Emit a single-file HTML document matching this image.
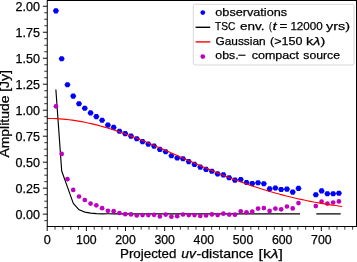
<!DOCTYPE html><html><head><meta charset="utf-8"><style>html,body{margin:0;padding:0;background:#fff;overflow:hidden}svg{display:block}text{font-family:"Liberation Sans",sans-serif;fill:#000;stroke:#000;stroke-width:0.25px}</style></head><body>
<svg width="357" height="262" viewBox="0 0 357 262">
<filter id="bl" x="0" y="0" width="357" height="262" filterUnits="userSpaceOnUse"><feGaussianBlur stdDeviation="0.33"/></filter>
<rect x="0" y="0" width="357" height="262" fill="#fff"/>
<g filter="url(#bl)">
<defs><clipPath id="c"><rect x="47.26" y="0.50" width="309.24" height="226.00"/></clipPath></defs>
<g clip-path="url(#c)">
<g fill="#0000ff"><polygon points="52.85,10.85 54.38,8.32 57.42,8.32 58.95,10.85 57.42,13.38 54.38,13.38"/><polygon points="58.63,58.80 60.15,56.27 63.20,56.27 64.73,58.80 63.20,61.33 60.15,61.33"/><polygon points="64.40,84.80 65.93,82.27 68.98,82.27 70.50,84.80 68.98,87.33 65.93,87.33"/><polygon points="70.18,96.10 71.70,93.57 74.75,93.57 76.28,96.10 74.75,98.63 71.70,98.63"/><polygon points="75.95,103.70 77.48,101.17 80.53,101.17 82.05,103.70 80.53,106.23 77.48,106.23"/><polygon points="81.73,108.20 83.25,105.67 86.31,105.67 87.83,108.20 86.31,110.73 83.25,110.73"/><polygon points="87.51,112.90 89.03,110.37 92.08,110.37 93.61,112.90 92.08,115.43 89.03,115.43"/><polygon points="93.28,116.60 94.81,114.07 97.86,114.07 99.38,116.60 97.86,119.13 94.81,119.13"/><polygon points="99.06,120.30 100.58,117.77 103.63,117.77 105.16,120.30 103.63,122.83 100.58,122.83"/><polygon points="104.83,125.10 106.36,122.57 109.41,122.57 110.93,125.10 109.41,127.63 106.36,127.63"/><polygon points="110.61,127.40 112.13,124.87 115.19,124.87 116.71,127.40 115.19,129.93 112.13,129.93"/><polygon points="116.39,131.30 117.91,128.77 120.96,128.77 122.49,131.30 120.96,133.83 117.91,133.83"/><polygon points="122.16,133.60 123.69,131.07 126.74,131.07 128.26,133.60 126.74,136.13 123.69,136.13"/><polygon points="127.94,136.10 129.46,133.57 132.51,133.57 134.04,136.10 132.51,138.63 129.46,138.63"/><polygon points="133.71,138.80 135.24,136.27 138.29,136.27 139.81,138.80 138.29,141.33 135.24,141.33"/><polygon points="139.49,141.60 141.01,139.07 144.06,139.07 145.59,141.60 144.06,144.13 141.01,144.13"/><polygon points="145.27,144.10 146.79,141.57 149.84,141.57 151.37,144.10 149.84,146.63 146.79,146.63"/><polygon points="151.04,146.10 152.57,143.57 155.62,143.57 157.14,146.10 155.62,148.63 152.57,148.63"/><polygon points="156.82,149.40 158.34,146.87 161.39,146.87 162.92,149.40 161.39,151.93 158.34,151.93"/><polygon points="162.59,151.80 164.12,149.27 167.17,149.27 168.69,151.80 167.17,154.33 164.12,154.33"/><polygon points="168.37,155.70 169.89,153.17 172.94,153.17 174.47,155.70 172.94,158.23 169.89,158.23"/><polygon points="174.15,158.00 175.67,155.47 178.72,155.47 180.25,158.00 178.72,160.53 175.67,160.53"/><polygon points="179.92,158.70 181.45,156.17 184.50,156.17 186.02,158.70 184.50,161.23 181.45,161.23"/><polygon points="185.70,161.60 187.22,159.07 190.27,159.07 191.80,161.60 190.27,164.13 187.22,164.13"/><polygon points="191.47,164.40 193.00,161.87 196.05,161.87 197.57,164.40 196.05,166.93 193.00,166.93"/><polygon points="197.25,167.10 198.78,164.57 201.83,164.57 203.35,167.10 201.83,169.63 198.78,169.63"/><polygon points="203.03,169.40 204.55,166.87 207.60,166.87 209.13,169.40 207.60,171.93 204.55,171.93"/><polygon points="208.80,171.30 210.33,168.77 213.38,168.77 214.90,171.30 213.38,173.83 210.33,173.83"/><polygon points="214.58,173.90 216.10,171.37 219.15,171.37 220.68,173.90 219.15,176.43 216.10,176.43"/><polygon points="220.35,174.90 221.88,172.37 224.93,172.37 226.45,174.90 224.93,177.43 221.88,177.43"/><polygon points="226.13,177.70 227.66,175.17 230.71,175.17 232.23,177.70 230.71,180.23 227.66,180.23"/><polygon points="231.91,180.10 233.43,177.57 236.48,177.57 238.01,180.10 236.48,182.63 233.43,182.63"/><polygon points="237.68,179.50 239.21,176.97 242.26,176.97 243.78,179.50 242.26,182.03 239.21,182.03"/><polygon points="243.46,182.50 244.98,179.97 248.03,179.97 249.56,182.50 248.03,185.03 244.98,185.03"/><polygon points="249.23,183.60 250.76,181.07 253.81,181.07 255.33,183.60 253.81,186.13 250.76,186.13"/><polygon points="255.01,182.70 256.54,180.17 259.58,180.17 261.11,182.70 259.58,185.23 256.54,185.23"/><polygon points="260.79,183.80 262.31,181.27 265.36,181.27 266.89,183.80 265.36,186.33 262.31,186.33"/><polygon points="266.56,188.90 268.09,186.37 271.14,186.37 272.66,188.90 271.14,191.43 268.09,191.43"/><polygon points="272.34,188.00 273.86,185.47 276.91,185.47 278.44,188.00 276.91,190.53 273.86,190.53"/><polygon points="278.11,189.50 279.64,186.97 282.69,186.97 284.21,189.50 282.69,192.03 279.64,192.03"/><polygon points="283.89,189.10 285.42,186.57 288.46,186.57 289.99,189.10 288.46,191.63 285.42,191.63"/><polygon points="289.67,192.10 291.19,189.57 294.24,189.57 295.77,192.10 294.24,194.63 291.19,194.63"/><polygon points="295.44,188.40 296.97,185.87 300.02,185.87 301.54,188.40 300.02,190.93 296.97,190.93"/><polygon points="312.77,194.80 314.30,192.27 317.34,192.27 318.87,194.80 317.34,197.33 314.30,197.33"/><polygon points="318.55,190.90 320.07,188.37 323.12,188.37 324.65,190.90 323.12,193.43 320.07,193.43"/><polygon points="324.32,193.70 325.85,191.17 328.90,191.17 330.42,193.70 328.90,196.23 325.85,196.23"/><polygon points="330.10,193.70 331.62,191.17 334.67,191.17 336.20,193.70 334.67,196.23 331.62,196.23"/><polygon points="335.87,193.20 337.40,190.67 340.45,190.67 341.97,193.20 340.45,195.73 337.40,195.73"/></g>
<polyline points="55.90,90.00 61.70,171.00 67.50,187.10 73.30,203.40 79.10,209.80 84.90,212.10 90.70,213.10 96.50,213.60 102.30,213.90 108.10,213.80 113.90,213.80 119.70,213.80 125.50,213.80 131.30,213.80 137.10,213.80 142.90,213.80 148.70,213.80 154.50,213.80 160.30,213.80 166.10,213.80 171.90,213.80 177.70,213.80 183.50,213.80 189.30,213.80 195.10,213.80 200.90,213.80 206.70,213.80 212.50,213.80 218.30,213.80 224.10,213.80 229.90,213.80 235.70,213.80 241.50,213.80 247.30,213.80 253.10,213.80 258.90,213.80 264.70,213.80 270.50,213.80 276.30,213.80 282.10,213.80 287.90,213.80 293.70,213.80 299.50,213.80" fill="none" stroke="#000" stroke-width="1.15" stroke-linecap="square" stroke-linejoin="round"/>
<polyline points="316.90,213.80 322.70,213.80 328.50,213.80 334.30,213.80 340.10,213.80" fill="none" stroke="#000" stroke-width="1.15" stroke-linecap="square"/>
<g fill="#bf00bf"><circle cx="55.90" cy="106.30" r="2.35"/><circle cx="61.68" cy="153.90" r="2.35"/><circle cx="67.45" cy="179.20" r="2.35"/><circle cx="73.23" cy="189.90" r="2.35"/><circle cx="79.00" cy="196.50" r="2.35"/><circle cx="84.78" cy="200.00" r="2.35"/><circle cx="90.56" cy="203.60" r="2.35"/><circle cx="96.33" cy="205.35" r="2.35"/><circle cx="102.11" cy="208.20" r="2.35"/><circle cx="107.88" cy="210.80" r="2.35"/><circle cx="113.66" cy="211.20" r="2.35"/><circle cx="119.44" cy="213.00" r="2.35"/><circle cx="125.21" cy="214.20" r="2.35"/><circle cx="130.99" cy="214.40" r="2.35"/><circle cx="136.76" cy="215.50" r="2.35"/><circle cx="142.54" cy="215.10" r="2.35"/><circle cx="148.32" cy="215.10" r="2.35"/><circle cx="154.09" cy="214.80" r="2.35"/><circle cx="159.87" cy="216.40" r="2.35"/><circle cx="165.64" cy="214.60" r="2.35"/><circle cx="171.42" cy="216.70" r="2.35"/><circle cx="177.20" cy="216.20" r="2.35"/><circle cx="182.97" cy="214.50" r="2.35"/><circle cx="188.75" cy="215.10" r="2.35"/><circle cx="194.52" cy="215.10" r="2.35"/><circle cx="200.30" cy="216.00" r="2.35"/><circle cx="206.08" cy="215.50" r="2.35"/><circle cx="211.85" cy="214.40" r="2.35"/><circle cx="217.63" cy="215.05" r="2.35"/><circle cx="223.40" cy="213.65" r="2.35"/><circle cx="229.18" cy="214.60" r="2.35"/><circle cx="234.96" cy="214.70" r="2.35"/><circle cx="240.73" cy="211.35" r="2.35"/><circle cx="246.51" cy="212.30" r="2.35"/><circle cx="252.28" cy="211.70" r="2.35"/><circle cx="258.06" cy="208.60" r="2.35"/><circle cx="263.84" cy="208.10" r="2.35"/><circle cx="269.61" cy="210.90" r="2.35"/><circle cx="275.39" cy="208.60" r="2.35"/><circle cx="281.16" cy="209.30" r="2.35"/><circle cx="286.94" cy="206.50" r="2.35"/><circle cx="292.72" cy="208.40" r="2.35"/><circle cx="298.49" cy="203.10" r="2.35"/><circle cx="315.82" cy="206.10" r="2.35"/><circle cx="321.60" cy="201.50" r="2.35"/><circle cx="327.37" cy="203.60" r="2.35"/><circle cx="333.15" cy="202.50" r="2.35"/><circle cx="338.92" cy="201.40" r="2.35"/></g>
<polyline points="47.20,118.41 50.33,118.44 53.47,118.52 56.60,118.66 59.73,118.85 62.86,119.09 66.00,119.39 69.13,119.74 72.26,120.14 75.40,120.60 78.53,121.10 81.66,121.66 84.79,122.26 87.93,122.92 91.06,123.62 94.19,124.36 97.32,125.15 100.46,125.99 103.59,126.86 106.72,127.78 109.86,128.73 112.99,129.72 116.12,130.75 119.25,131.82 122.39,132.91 125.52,134.04 128.65,135.20 131.79,136.38 134.92,137.59 138.05,138.83 141.18,140.08 144.32,141.36 147.45,142.65 150.58,143.97 153.72,145.30 156.85,146.64 159.98,147.99 163.11,149.35 166.25,150.72 169.38,152.10 172.51,153.48 175.64,154.87 178.78,156.26 181.91,157.64 185.04,159.03 188.18,160.41 191.31,161.78 194.44,163.15 197.57,164.52 200.71,165.87 203.84,167.22 206.97,168.55 210.11,169.87 213.24,171.17 216.37,172.46 219.50,173.74 222.64,175.00 225.77,176.24 228.90,177.46 232.04,178.67 235.17,179.85 238.30,181.01 241.43,182.16 244.57,183.28 247.70,184.37 250.83,185.45 253.96,186.50 257.10,187.53 260.23,188.54 263.36,189.52 266.50,190.47 269.63,191.41 272.76,192.32 275.89,193.20 279.03,194.06 282.16,194.90 285.29,195.71 288.43,196.50 291.56,197.26 294.69,198.00 297.82,198.71 300.96,199.41 304.09,200.08 307.22,200.72 310.36,201.35 313.49,201.95 316.62,202.53 319.75,203.09 322.89,203.63 326.02,204.15 329.15,204.64 332.28,205.12 335.42,205.58 338.55,206.02 341.68,206.44" fill="none" stroke="#ff0000" stroke-width="1.1" stroke-linecap="square" stroke-linejoin="round"/>
</g>
<g stroke="#000"><line x1="47.20" y1="226.50" x2="47.20" y2="231.00" stroke-width="0.95"/><line x1="86.36" y1="226.50" x2="86.36" y2="231.00" stroke-width="0.95"/><line x1="125.52" y1="226.50" x2="125.52" y2="231.00" stroke-width="0.95"/><line x1="164.68" y1="226.50" x2="164.68" y2="231.00" stroke-width="0.95"/><line x1="203.84" y1="226.50" x2="203.84" y2="231.00" stroke-width="0.95"/><line x1="243.00" y1="226.50" x2="243.00" y2="231.00" stroke-width="0.95"/><line x1="282.16" y1="226.50" x2="282.16" y2="231.00" stroke-width="0.95"/><line x1="321.32" y1="226.50" x2="321.32" y2="231.00" stroke-width="0.95"/><line x1="55.03" y1="226.50" x2="55.03" y2="229.70" stroke-width="0.8"/><line x1="62.86" y1="226.50" x2="62.86" y2="229.70" stroke-width="0.8"/><line x1="70.70" y1="226.50" x2="70.70" y2="229.70" stroke-width="0.8"/><line x1="78.53" y1="226.50" x2="78.53" y2="229.70" stroke-width="0.8"/><line x1="94.19" y1="226.50" x2="94.19" y2="229.70" stroke-width="0.8"/><line x1="102.02" y1="226.50" x2="102.02" y2="229.70" stroke-width="0.8"/><line x1="109.86" y1="226.50" x2="109.86" y2="229.70" stroke-width="0.8"/><line x1="117.69" y1="226.50" x2="117.69" y2="229.70" stroke-width="0.8"/><line x1="133.35" y1="226.50" x2="133.35" y2="229.70" stroke-width="0.8"/><line x1="141.18" y1="226.50" x2="141.18" y2="229.70" stroke-width="0.8"/><line x1="149.02" y1="226.50" x2="149.02" y2="229.70" stroke-width="0.8"/><line x1="156.85" y1="226.50" x2="156.85" y2="229.70" stroke-width="0.8"/><line x1="172.51" y1="226.50" x2="172.51" y2="229.70" stroke-width="0.8"/><line x1="180.34" y1="226.50" x2="180.34" y2="229.70" stroke-width="0.8"/><line x1="188.18" y1="226.50" x2="188.18" y2="229.70" stroke-width="0.8"/><line x1="196.01" y1="226.50" x2="196.01" y2="229.70" stroke-width="0.8"/><line x1="211.67" y1="226.50" x2="211.67" y2="229.70" stroke-width="0.8"/><line x1="219.50" y1="226.50" x2="219.50" y2="229.70" stroke-width="0.8"/><line x1="227.34" y1="226.50" x2="227.34" y2="229.70" stroke-width="0.8"/><line x1="235.17" y1="226.50" x2="235.17" y2="229.70" stroke-width="0.8"/><line x1="250.83" y1="226.50" x2="250.83" y2="229.70" stroke-width="0.8"/><line x1="258.66" y1="226.50" x2="258.66" y2="229.70" stroke-width="0.8"/><line x1="266.50" y1="226.50" x2="266.50" y2="229.70" stroke-width="0.8"/><line x1="274.33" y1="226.50" x2="274.33" y2="229.70" stroke-width="0.8"/><line x1="289.99" y1="226.50" x2="289.99" y2="229.70" stroke-width="0.8"/><line x1="297.82" y1="226.50" x2="297.82" y2="229.70" stroke-width="0.8"/><line x1="305.66" y1="226.50" x2="305.66" y2="229.70" stroke-width="0.8"/><line x1="313.49" y1="226.50" x2="313.49" y2="229.70" stroke-width="0.8"/><line x1="329.15" y1="226.50" x2="329.15" y2="229.70" stroke-width="0.8"/><line x1="336.98" y1="226.50" x2="336.98" y2="229.70" stroke-width="0.8"/><line x1="344.82" y1="226.50" x2="344.82" y2="229.70" stroke-width="0.8"/><line x1="352.65" y1="226.50" x2="352.65" y2="229.70" stroke-width="0.8"/><line x1="47.26" y1="214.15" x2="42.86" y2="214.15" stroke-width="0.95"/><line x1="47.26" y1="188.16" x2="42.86" y2="188.16" stroke-width="0.95"/><line x1="47.26" y1="162.18" x2="42.86" y2="162.18" stroke-width="0.95"/><line x1="47.26" y1="136.19" x2="42.86" y2="136.19" stroke-width="0.95"/><line x1="47.26" y1="110.20" x2="42.86" y2="110.20" stroke-width="0.95"/><line x1="47.26" y1="84.21" x2="42.86" y2="84.21" stroke-width="0.95"/><line x1="47.26" y1="58.22" x2="42.86" y2="58.22" stroke-width="0.95"/><line x1="47.26" y1="32.24" x2="42.86" y2="32.24" stroke-width="0.95"/><line x1="47.26" y1="6.25" x2="42.86" y2="6.25" stroke-width="0.95"/><line x1="47.26" y1="220.65" x2="44.26" y2="220.65" stroke-width="0.8"/><line x1="47.26" y1="207.65" x2="44.26" y2="207.65" stroke-width="0.8"/><line x1="47.26" y1="201.16" x2="44.26" y2="201.16" stroke-width="0.8"/><line x1="47.26" y1="194.66" x2="44.26" y2="194.66" stroke-width="0.8"/><line x1="47.26" y1="181.67" x2="44.26" y2="181.67" stroke-width="0.8"/><line x1="47.26" y1="175.17" x2="44.26" y2="175.17" stroke-width="0.8"/><line x1="47.26" y1="168.67" x2="44.26" y2="168.67" stroke-width="0.8"/><line x1="47.26" y1="155.68" x2="44.26" y2="155.68" stroke-width="0.8"/><line x1="47.26" y1="149.18" x2="44.26" y2="149.18" stroke-width="0.8"/><line x1="47.26" y1="142.68" x2="44.26" y2="142.68" stroke-width="0.8"/><line x1="47.26" y1="129.69" x2="44.26" y2="129.69" stroke-width="0.8"/><line x1="47.26" y1="123.19" x2="44.26" y2="123.19" stroke-width="0.8"/><line x1="47.26" y1="116.70" x2="44.26" y2="116.70" stroke-width="0.8"/><line x1="47.26" y1="103.70" x2="44.26" y2="103.70" stroke-width="0.8"/><line x1="47.26" y1="97.21" x2="44.26" y2="97.21" stroke-width="0.8"/><line x1="47.26" y1="90.71" x2="44.26" y2="90.71" stroke-width="0.8"/><line x1="47.26" y1="77.72" x2="44.26" y2="77.72" stroke-width="0.8"/><line x1="47.26" y1="71.22" x2="44.26" y2="71.22" stroke-width="0.8"/><line x1="47.26" y1="64.72" x2="44.26" y2="64.72" stroke-width="0.8"/><line x1="47.26" y1="51.73" x2="44.26" y2="51.73" stroke-width="0.8"/><line x1="47.26" y1="45.23" x2="44.26" y2="45.23" stroke-width="0.8"/><line x1="47.26" y1="38.73" x2="44.26" y2="38.73" stroke-width="0.8"/><line x1="47.26" y1="25.74" x2="44.26" y2="25.74" stroke-width="0.8"/><line x1="47.26" y1="19.24" x2="44.26" y2="19.24" stroke-width="0.8"/><line x1="47.26" y1="12.75" x2="44.26" y2="12.75" stroke-width="0.8"/></g>
<rect x="47.26" y="0.50" width="309.24" height="226.00" fill="none" stroke="#000" stroke-width="1"/>
<text x="43.68" y="243.5" font-size="12.0" textLength="7.04" lengthAdjust="spacingAndGlyphs">0</text>
<text x="76.10" y="243.5" font-size="12.0" textLength="20.52" lengthAdjust="spacingAndGlyphs">100</text>
<text x="115.26" y="243.5" font-size="12.0" textLength="20.52" lengthAdjust="spacingAndGlyphs">200</text>
<text x="154.42" y="243.5" font-size="12.0" textLength="20.52" lengthAdjust="spacingAndGlyphs">300</text>
<text x="193.58" y="243.5" font-size="12.0" textLength="20.52" lengthAdjust="spacingAndGlyphs">400</text>
<text x="232.74" y="243.5" font-size="12.0" textLength="20.52" lengthAdjust="spacingAndGlyphs">500</text>
<text x="271.90" y="243.5" font-size="12.0" textLength="20.52" lengthAdjust="spacingAndGlyphs">600</text>
<text x="311.06" y="243.5" font-size="12.0" textLength="20.52" lengthAdjust="spacingAndGlyphs">700</text>
<text x="15.60" y="218.55" font-size="12.0" textLength="24.40" lengthAdjust="spacingAndGlyphs">0.00</text>
<text x="15.60" y="192.56" font-size="12.0" textLength="24.40" lengthAdjust="spacingAndGlyphs">0.25</text>
<text x="15.60" y="166.58" font-size="12.0" textLength="24.40" lengthAdjust="spacingAndGlyphs">0.50</text>
<text x="15.60" y="140.59" font-size="12.0" textLength="24.40" lengthAdjust="spacingAndGlyphs">0.75</text>
<text x="15.60" y="114.60" font-size="12.0" textLength="24.40" lengthAdjust="spacingAndGlyphs">1.00</text>
<text x="15.60" y="88.61" font-size="12.0" textLength="24.40" lengthAdjust="spacingAndGlyphs">1.25</text>
<text x="15.60" y="62.62" font-size="12.0" textLength="24.40" lengthAdjust="spacingAndGlyphs">1.50</text>
<text x="15.60" y="36.64" font-size="12.0" textLength="24.40" lengthAdjust="spacingAndGlyphs">1.75</text>
<text x="15.60" y="10.65" font-size="12.0" textLength="24.40" lengthAdjust="spacingAndGlyphs">2.00</text>
<text x="120.0" y="257.6" font-size="12.9" textLength="56.4" lengthAdjust="spacingAndGlyphs">Projected</text>
<text x="181.3" y="257.6" font-size="12.9" font-style="italic" textLength="14.6" lengthAdjust="spacingAndGlyphs">uv</text>
<text x="196.5" y="257.6" font-size="12.9" textLength="57.2" lengthAdjust="spacingAndGlyphs">-distance</text>
<text x="258.6" y="257.6" font-size="12.9" textLength="24.4" lengthAdjust="spacingAndGlyphs">[k<tspan font-style="italic">λ</tspan>]</text>
<text transform="translate(9.4,157.5) rotate(-90)" font-size="12.3" textLength="87.4" lengthAdjust="spacingAndGlyphs">Amplitude [Jy]</text>
<rect x="193.3" y="4.3" width="160.8" height="60.7" rx="2" ry="2" fill="#fff" fill-opacity="0.8" stroke="#d2d2d2" stroke-width="0.9"/>
<circle cx="202.8" cy="12.6" r="2.35" fill="#0000ff"/>
<line x1="195.6" y1="27.3" x2="210.2" y2="27.3" stroke="#000" stroke-width="1.4"/>
<line x1="195.6" y1="41.9" x2="210.2" y2="41.9" stroke="#ff0000" stroke-width="1.4"/>
<circle cx="202.8" cy="56.6" r="2.35" fill="#bf00bf"/>
<text x="215.30" y="15.60" font-size="11.8" textLength="71.80" lengthAdjust="spacingAndGlyphs">observations</text>
<text x="215.10" y="30.20" font-size="11.8" textLength="20.30" lengthAdjust="spacingAndGlyphs">TSC</text>
<text x="239.90" y="30.20" font-size="11.8" textLength="24.50" lengthAdjust="spacingAndGlyphs">env.</text>
<text x="268.90" y="30.20" font-size="11.8" textLength="2.80" lengthAdjust="spacingAndGlyphs">(</text>
<text x="272.60" y="30.20" font-size="11.8" textLength="4.20" lengthAdjust="spacingAndGlyphs" font-style="italic">t</text>
<text x="279.60" y="30.20" font-size="11.8" textLength="7.80" lengthAdjust="spacingAndGlyphs">=</text>
<text x="290.40" y="30.20" font-size="11.8" textLength="32.30" lengthAdjust="spacingAndGlyphs">12000</text>
<text x="326.00" y="30.20" font-size="11.8" textLength="24.10" lengthAdjust="spacingAndGlyphs">yrs)</text>
<text x="215.50" y="44.80" font-size="11.8" textLength="50.10" lengthAdjust="spacingAndGlyphs">Gaussian</text>
<text x="270.10" y="44.80" font-size="11.8" textLength="32.50" lengthAdjust="spacingAndGlyphs">(&gt;150</text>
<text x="306.10" y="44.80" font-size="11.8" textLength="19.10" lengthAdjust="spacingAndGlyphs">k<tspan font-style="italic">λ</tspan>)</text>
<text x="215.30" y="59.30" font-size="11.8" textLength="23.30" lengthAdjust="spacingAndGlyphs">obs.</text>
<text x="237.90" y="59.30" font-size="11.8" textLength="8.20" lengthAdjust="spacingAndGlyphs">−</text>
<text x="251.70" y="59.30" font-size="11.8" textLength="47.30" lengthAdjust="spacingAndGlyphs">compact</text>
<text x="303.30" y="59.30" font-size="11.8" textLength="36.70" lengthAdjust="spacingAndGlyphs">source</text>
</g></svg></body></html>
